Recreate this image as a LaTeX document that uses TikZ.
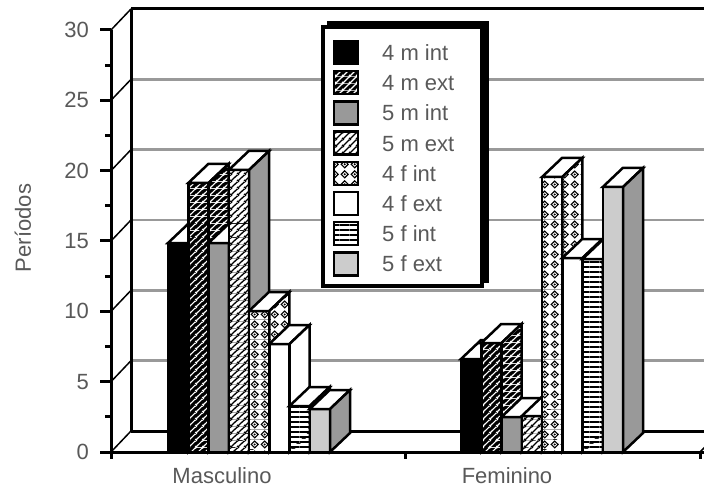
\documentclass[tikz,border=0pt]{standalone}
\usepackage{fontspec}
\setmainfont{Liberation Sans}
\usetikzlibrary{patterns}

\definecolor{bargray}{gray}{0.6}
\definecolor{barlight}{gray}{0.8}
\definecolor{gridgray}{gray}{0.6}
\definecolor{labelgray}{gray}{0.35}

\pgfdeclarepatterninherentlycolored{hatchwhite}{\pgfpointorigin}{\pgfpoint{7pt}{7pt}}{\pgfpoint{7pt}{7pt}}{
  \pgfsetfillcolor{black}
  \pgfpathrectangle{\pgfpointorigin}{\pgfpoint{7pt}{7pt}}
  \pgfusepath{fill}
  \pgfsetstrokecolor{white}
  \pgfsetlinewidth{1.3pt}
  \pgfpathmoveto{\pgfpoint{-1pt}{-1pt}}
  \pgfpathlineto{\pgfpoint{8pt}{8pt}}
  \pgfpathmoveto{\pgfpoint{-1pt}{6pt}}
  \pgfpathlineto{\pgfpoint{1pt}{8pt}}
  \pgfpathmoveto{\pgfpoint{6pt}{-1pt}}
  \pgfpathlineto{\pgfpoint{8pt}{1pt}}
  \pgfusepath{stroke}
}
\pgfdeclarepatterninherentlycolored{hatchblack}{\pgfpointorigin}{\pgfpoint{7pt}{7pt}}{\pgfpoint{7pt}{7pt}}{
  \pgfsetfillcolor{white}
  \pgfpathrectangle{\pgfpointorigin}{\pgfpoint{7pt}{7pt}}
  \pgfusepath{fill}
  \pgfsetstrokecolor{black}
  \pgfsetlinewidth{1.4pt}
  \pgfpathmoveto{\pgfpoint{-1pt}{-1pt}}
  \pgfpathlineto{\pgfpoint{8pt}{8pt}}
  \pgfpathmoveto{\pgfpoint{-1pt}{6pt}}
  \pgfpathlineto{\pgfpoint{1pt}{8pt}}
  \pgfpathmoveto{\pgfpoint{6pt}{-1pt}}
  \pgfpathlineto{\pgfpoint{8pt}{1pt}}
  \pgfusepath{stroke}
}
\pgfdeclarepatterninherentlycolored{diamondblack}{\pgfpointorigin}{\pgfpoint{10pt}{10pt}}{\pgfpoint{10pt}{10pt}}{
  \pgfsetfillcolor{white}
  \pgfpathrectangle{\pgfpointorigin}{\pgfpoint{10pt}{10pt}}
  \pgfusepath{fill}
  \pgfsetstrokecolor{black}
  \pgfsetfillcolor{black}
  \pgfsetlinewidth{1.2pt}
  \pgfpathmoveto{\pgfpoint{5pt}{1.3pt}}
  \pgfpathlineto{\pgfpoint{8.7pt}{5pt}}
  \pgfpathlineto{\pgfpoint{5pt}{8.7pt}}
  \pgfpathlineto{\pgfpoint{1.3pt}{5pt}}
  \pgfpathclose
  \pgfusepath{stroke}
  \pgfpathcircle{\pgfpoint{5pt}{5pt}}{1.2pt}
  \pgfusepath{fill}
}
\pgfdeclarepatterninherentlycolored{stripeblack}{\pgfpointorigin}{\pgfpoint{10pt}{4.5pt}}{\pgfpoint{10pt}{4.5pt}}{
  \pgfsetfillcolor{white}
  \pgfpathrectangle{\pgfpointorigin}{\pgfpoint{10pt}{4.5pt}}
  \pgfusepath{fill}
  \pgfsetfillcolor{black}
  \pgfpathrectangle{\pgfpointorigin}{\pgfpoint{10pt}{2pt}}
  \pgfusepath{fill}
}

\tikzset{
  chartfont/.style={font=\fontsize{22}{26}\selectfont, text=labelgray, inner sep=0pt},
  axisline/.style={draw=black, line width=3pt},
  gridline/.style={draw=gridgray, line width=2.5pt},
  depthline/.style={draw=black, line width=1.5pt},
  barline/.style={draw=black, line width=2.5pt},
  m4int/.style={fill=black},
  m4ext/.style={pattern=hatchwhite},
  m5int/.style={fill=bargray},
  m5ext/.style={pattern=hatchblack},
  f4int/.style={pattern=diamondblack},
  f4ext/.style={fill=white},
  f5int/.style={pattern=stripeblack},
  f5ext/.style={fill=barlight},
  darkside/.style={fill=bargray}
}

% x0, top, front, side
\newcommand{\colbar}[4]{%
  \filldraw[barline,#3] (#1,452) rectangle (#1+20.25,#2);
  \filldraw[barline,fill=white] (#1,#2) -- (#1+20.25,#2) -- (#1+40.25,#2-19) -- (#1+20,#2-19) -- cycle;
  \filldraw[barline,#4] (#1+20.25,452) -- (#1+20.25,#2) -- (#1+40.25,#2-19) -- (#1+40.25,433) -- cycle;
}

\begin{document}
\begin{tikzpicture}[x=1pt,y=-1pt]
\clip (0,0) rectangle (704,489);
\fill[white] (0,0) rectangle (704,489);

\foreach \v in {5,10,...,25}
{
  \draw[gridline] (131,431-14.067*\v) -- (710,431-14.067*\v);
}
\draw[axisline] (131,9) -- (710,9);
\draw[axisline] (131,431) -- (710,431);
\draw[axisline] (131,9) -- (131,431);
\draw[axisline] (111,30) -- (111,459);

\foreach \v in {0,5,...,30}
{
  \draw[axisline] (100,452-14.067*\v) -- (111,452-14.067*\v);
  \draw[depthline] (111,452-14.067*\v) -- (131,431-14.067*\v);
  \node[chartfont, anchor=east] (ylab\v) at (89,452-14.067*\v) {\v};
}
\foreach \v in {2.5,7.5,...,27.5}
{
  \draw[axisline] (105,452-14.067*\v) -- (111,452-14.067*\v);
}
\node[chartfont, rotate=90] (ytitle) at (23,228) {Períodos};

\fill[black] (327,21) rectangle (489,283);
\filldraw[fill=white, line width=3.5pt] (323,27) rectangle (482,286);
\filldraw[barline,m4int] (334,41) rectangle (358,64);
\filldraw[barline,m4ext] (334,71.2) rectangle (358,94.2);
\filldraw[barline,m5int] (334,101.4) rectangle (358,124.4);
\filldraw[barline,m5ext] (334,131.6) rectangle (358,154.6);
\filldraw[barline,f4int] (334,161.8) rectangle (358,184.8);
\filldraw[barline,f4ext] (334,192) rectangle (358,215);
\filldraw[barline,f5int] (334,222.2) rectangle (358,245.2);
\filldraw[barline,f5ext] (334,252.4) rectangle (358,275.4);
\node[chartfont, anchor=base west] (lm4int) at (382,60.5) {4 m int};
\node[chartfont, anchor=base west] (lm4ext) at (382,90.7) {4 m ext};
\node[chartfont, anchor=base west] (lm5int) at (382,120.9) {5 m int};
\node[chartfont, anchor=base west] (lm5ext) at (382,151.1) {5 m ext};
\node[chartfont, anchor=base west] (lf4int) at (382,181.3) {4 f int};
\node[chartfont, anchor=base west] (lf4ext) at (382,211.5) {4 f ext};
\node[chartfont, anchor=base west] (lf5int) at (382,241.7) {5 f int};
\node[chartfont, anchor=base west] (lf5ext) at (382,271.9) {5 f ext};

\begin{scope}[xshift=168pt]
\colbar{0}{243}{m4int}{m4int}
\colbar{20.25}{183}{m4ext}{m4ext}
\colbar{40.5}{243}{m5int}{m5int}
\colbar{60.75}{170}{m5ext}{darkside}
\colbar{81}{311}{f4int}{f4int}
\colbar{101.25}{344}{f4ext}{f4ext}
\colbar{121.5}{406}{f5int}{f5int}
\colbar{141.75}{409}{f5ext}{darkside}
\end{scope}
\begin{scope}[xshift=461pt]
\colbar{0}{359}{m4int}{m4int}
\colbar{20.25}{343}{m4ext}{m4ext}
\colbar{40.5}{417}{m5int}{m5int}
\colbar{60.75}{416}{m5ext}{darkside}
\colbar{81}{177}{f4int}{f4int}
\colbar{101.25}{258}{f4ext}{f4ext}
\colbar{121.5}{259}{f5int}{f5int}
\colbar{141.75}{187}{f5ext}{darkside}
\end{scope}

\draw[axisline] (111,452) -- (710,452);
\draw[depthline] (700,452) -- (721,431);
\draw[axisline] (405,452) -- (405,459);
\draw[axisline] (700,452) -- (700,459);
\node[chartfont, anchor=base] (xmasc) at (222,483) {Masculino};
\node[chartfont, anchor=base] (xfem) at (507,483) {Feminino};
\end{tikzpicture}
\end{document}
